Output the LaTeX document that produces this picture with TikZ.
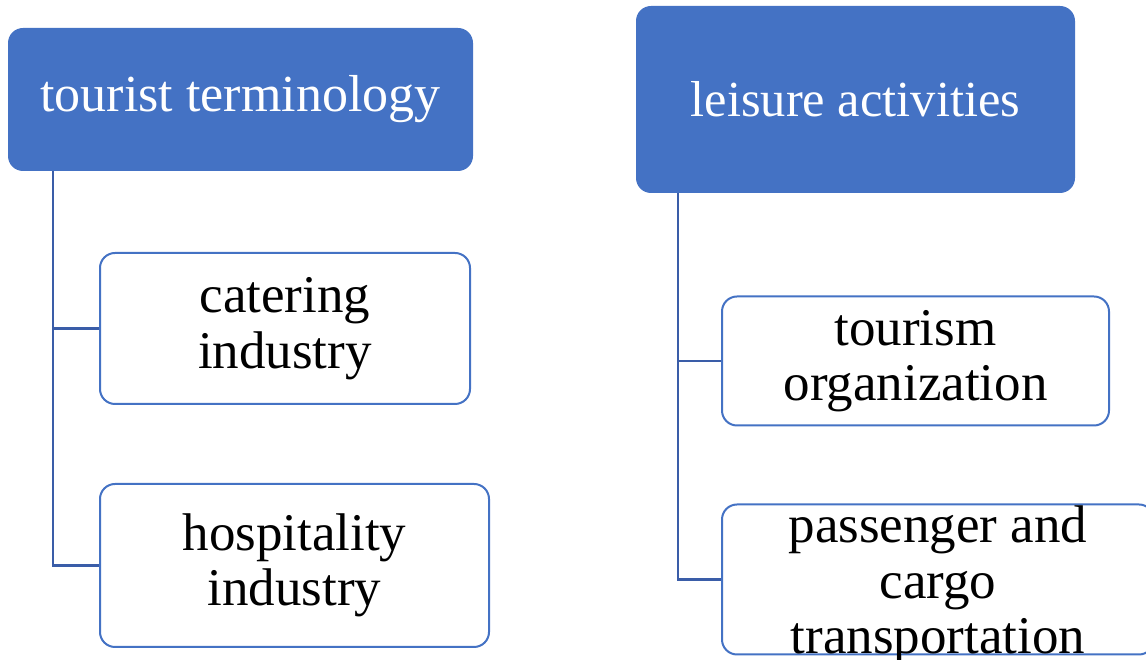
\documentclass[tikz,border=0pt]{standalone}
\usepackage{fontspec}
\setmainfont{Liberation Serif}
\definecolor{boxblue}{HTML}{4472C4}
\definecolor{linkblue}{HTML}{3A5DA8}
\tikzset{
  parentbox/.style={fill=boxblue, draw=none, rounded corners=15pt, text=white,
    font=\fontsize{52}{56}\selectfont, inner sep=0pt, align=center},
  childbox/.style={fill=white, draw=boxblue, line width=2pt, rounded corners=15pt,
    text=black, font=\fontsize{53}{55.5}\selectfont, inner sep=0pt, align=center},
  childtext/.style={text=black, font=\fontsize{53}{55.5}\selectfont, inner sep=0pt, align=center},
  link/.style={draw=linkblue, line width=2.5pt}
}
\begin{document}
\begin{tikzpicture}[x=1pt,y=1pt]
\useasboundingbox (0,0) rectangle (1146,660);
\clip (0,0) rectangle (1146,660);
% parents
\node[parentbox, minimum width=465pt, minimum height=143pt] (A) at (240.5,560.5) {tourist terminology};
\node[parentbox, minimum width=439pt, minimum height=187pt, font=\fontsize{50.5}{56}\selectfont] (B) at (855.5,560.5) {leisure activities};
% trunk coordinates
\coordinate (ta) at (53,0);
\coordinate (tb) at (678,0);
% connectors (drawn before children)
\draw[link] (A.south -| ta) |- (285,94.5);
\draw[link] (ta |- A.south) |- (285,331.5);
\draw[link] (B.south -| tb) |- (938,80.5);
\draw[link] (tb |- B.south) |- (915.5,299);
% children
\node[childbox, minimum width=370pt, minimum height=151pt] (A1) at (285,331.5) {catering\\industry};
\node[childbox, minimum width=389pt, minimum height=163pt] (A2) at (294.5,94.5) {hospitality\\industry};
\node[childbox, minimum width=387pt, minimum height=129pt] (B1) at (915.5,299) {tourism\\organization};
\node[childbox, minimum width=432pt, minimum height=150pt] (B2) at (938,80.5) {};
\node[childtext] (B2t) at ([yshift=-6pt]B2.center) {passenger and\\cargo\\transportation};
\end{tikzpicture}
\end{document}
